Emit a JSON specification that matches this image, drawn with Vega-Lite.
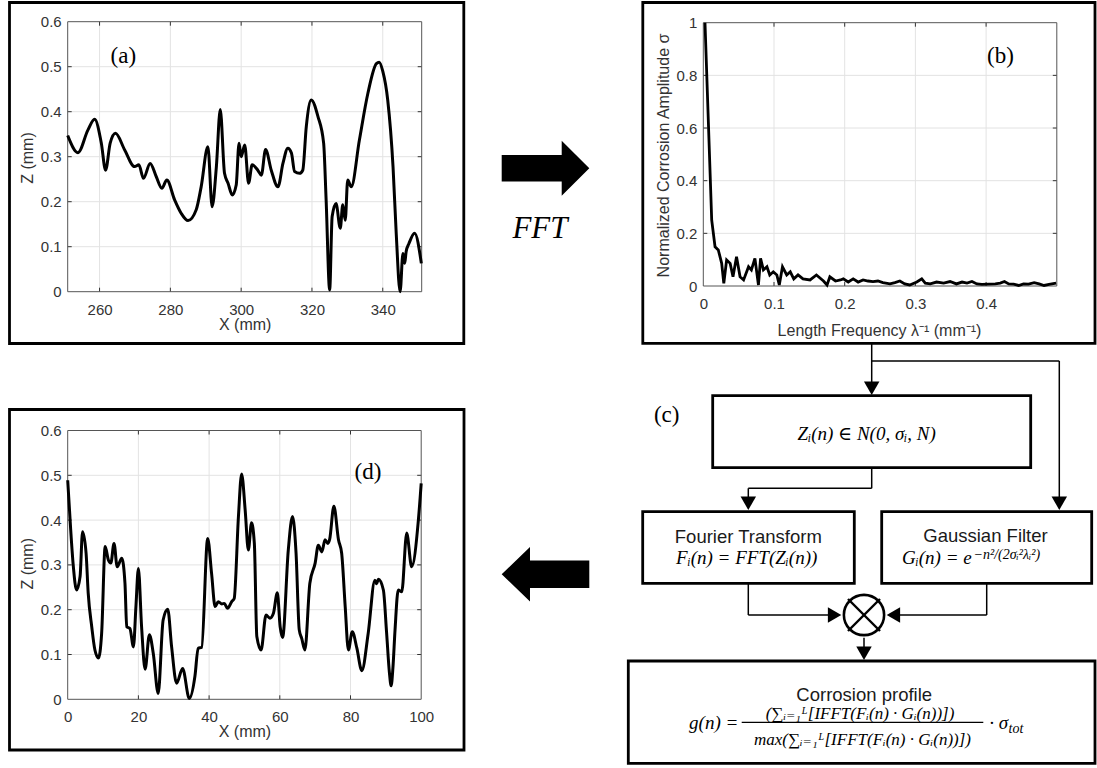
{
  "$schema": "https://vega.github.io/schema/vega-lite/v6.json",
  "width": 1097,
  "height": 768,
  "autosize": {"type": "none"},
  "padding": 0,
  "background": "white",
  "config": {
    "view": {"stroke": null},
    "axis": {
      "labelFont": "Liberation Sans",
      "labelFontSize": 15,
      "labelColor": "#333333",
      "titleFont": "Liberation Sans",
      "titleFontSize": 16,
      "titleFontWeight": "normal",
      "titleColor": "#333333",
      "labelFlush": false,
      "labelOverlap": false,
      "ticks": false,
      "tickSize": 0,
      "domain": false,
      "grid": false
    }
  },
  "datasets": {
    "profile_a": [
      {"X": 251.0, "Z": 0.347}, {"X": 253.9, "Z": 0.309}, {"X": 256.7, "Z": 0.359}, {"X": 258.6, "Z": 0.383},
      {"X": 260.5, "Z": 0.33}, {"X": 261.7, "Z": 0.27}, {"X": 263.0, "Z": 0.33}, {"X": 264.5, "Z": 0.352},
      {"X": 267.1, "Z": 0.315}, {"X": 269.9, "Z": 0.278}, {"X": 271.1, "Z": 0.282}, {"X": 272.4, "Z": 0.252},
      {"X": 274.3, "Z": 0.285}, {"X": 276.0, "Z": 0.256}, {"X": 277.6, "Z": 0.23}, {"X": 279.0, "Z": 0.248},
      {"X": 281.2, "Z": 0.204}, {"X": 283.0, "Z": 0.175}, {"X": 285.0, "Z": 0.158}, {"X": 287.3, "Z": 0.182},
      {"X": 288.7, "Z": 0.233}, {"X": 290.6, "Z": 0.322}, {"X": 291.8, "Z": 0.189}, {"X": 293.0, "Z": 0.278},
      {"X": 294.1, "Z": 0.405}, {"X": 295.3, "Z": 0.263}, {"X": 296.3, "Z": 0.241}, {"X": 297.5, "Z": 0.215},
      {"X": 298.6, "Z": 0.237}, {"X": 299.4, "Z": 0.33}, {"X": 300.0, "Z": 0.3}, {"X": 301.0, "Z": 0.326},
      {"X": 302.1, "Z": 0.241}, {"X": 303.1, "Z": 0.282}, {"X": 304.7, "Z": 0.27}, {"X": 305.7, "Z": 0.259},
      {"X": 306.9, "Z": 0.316}, {"X": 308.5, "Z": 0.27}, {"X": 310.4, "Z": 0.233}, {"X": 311.8, "Z": 0.285},
      {"X": 313.2, "Z": 0.319}, {"X": 314.2, "Z": 0.308}, {"X": 315.1, "Z": 0.267}, {"X": 316.5, "Z": 0.263},
      {"X": 317.4, "Z": 0.27}, {"X": 318.4, "Z": 0.367}, {"X": 319.8, "Z": 0.426}, {"X": 321.7, "Z": 0.389},
      {"X": 323.3, "Z": 0.33}, {"X": 324.0, "Z": 0.204}, {"X": 325.0, "Z": 0.004}, {"X": 325.7, "Z": 0.167},
      {"X": 326.8, "Z": 0.196}, {"X": 328.0, "Z": 0.141}, {"X": 328.7, "Z": 0.193}, {"X": 329.4, "Z": 0.159},
      {"X": 330.1, "Z": 0.248}, {"X": 331.1, "Z": 0.233}, {"X": 333.4, "Z": 0.337}, {"X": 335.8, "Z": 0.441},
      {"X": 338.2, "Z": 0.507}, {"X": 339.0, "Z": 0.51}, {"X": 340.0, "Z": 0.49}, {"X": 341.4, "Z": 0.426},
      {"X": 342.9, "Z": 0.278}, {"X": 343.8, "Z": 0.13}, {"X": 344.9, "Z": 0.0}, {"X": 345.7, "Z": 0.085},
      {"X": 346.2, "Z": 0.063}, {"X": 346.6, "Z": 0.089}, {"X": 347.4, "Z": 0.107}, {"X": 349.0, "Z": 0.13},
      {"X": 350.9, "Z": 0.063}
    ],
    "spectrum_b": [
      {"f": 0.0024, "s": 1.0}, {"f": 0.0119, "s": 0.25}, {"f": 0.0166, "s": 0.149}, {"f": 0.0212, "s": 0.137},
      {"f": 0.026, "s": 0.086}, {"f": 0.029, "s": 0.01}, {"f": 0.033, "s": 0.099}, {"f": 0.038, "s": 0.086},
      {"f": 0.042, "s": 0.035}, {"f": 0.047, "s": 0.111}, {"f": 0.052, "s": 0.035}, {"f": 0.057, "s": 0.023},
      {"f": 0.064, "s": 0.073}, {"f": 0.068, "s": 0.061}, {"f": 0.073, "s": 0.105}, {"f": 0.078, "s": 0.004},
      {"f": 0.081, "s": 0.105}, {"f": 0.085, "s": 0.061}, {"f": 0.09, "s": 0.073}, {"f": 0.094, "s": 0.042},
      {"f": 0.099, "s": 0.054}, {"f": 0.104, "s": 0.042}, {"f": 0.1075, "s": 0.004}, {"f": 0.112, "s": 0.073},
      {"f": 0.118, "s": 0.042}, {"f": 0.123, "s": 0.054}, {"f": 0.128, "s": 0.027}, {"f": 0.134, "s": 0.042},
      {"f": 0.141, "s": 0.027}, {"f": 0.151, "s": 0.023}, {"f": 0.16, "s": 0.042}, {"f": 0.17, "s": 0.019},
      {"f": 0.175, "s": 0.004}, {"f": 0.179, "s": 0.035}, {"f": 0.187, "s": 0.019}, {"f": 0.194, "s": 0.023},
      {"f": 0.198, "s": 0.027}, {"f": 0.205, "s": 0.015}, {"f": 0.212, "s": 0.027}, {"f": 0.219, "s": 0.015},
      {"f": 0.226, "s": 0.023}, {"f": 0.233, "s": 0.019}, {"f": 0.24, "s": 0.017}, {"f": 0.247, "s": 0.019},
      {"f": 0.254, "s": 0.013}, {"f": 0.264, "s": 0.008}, {"f": 0.271, "s": 0.013}, {"f": 0.278, "s": 0.019},
      {"f": 0.285, "s": 0.008}, {"f": 0.292, "s": 0.004}, {"f": 0.302, "s": 0.015}, {"f": 0.309, "s": 0.027},
      {"f": 0.314, "s": 0.011}, {"f": 0.321, "s": 0.008}, {"f": 0.33, "s": 0.015}, {"f": 0.34, "s": 0.011},
      {"f": 0.349, "s": 0.017}, {"f": 0.358, "s": 0.008}, {"f": 0.366, "s": 0.015}, {"f": 0.373, "s": 0.011},
      {"f": 0.38, "s": 0.017}, {"f": 0.387, "s": 0.008}, {"f": 0.394, "s": 0.006}, {"f": 0.404, "s": 0.007},
      {"f": 0.413, "s": 0.008}, {"f": 0.42, "s": 0.011}, {"f": 0.426, "s": 0.017}, {"f": 0.432, "s": 0.008},
      {"f": 0.439, "s": 0.007}, {"f": 0.446, "s": 0.002}, {"f": 0.453, "s": 0.008}, {"f": 0.46, "s": 0.007},
      {"f": 0.468, "s": 0.013}, {"f": 0.475, "s": 0.008}, {"f": 0.482, "s": 0.002}, {"f": 0.489, "s": 0.006},
      {"f": 0.499, "s": 0.011}
    ],
    "profile_d": [
      {"X": 0, "Z": 0.489}, {"X": 0.85, "Z": 0.378}, {"X": 1.6, "Z": 0.296}, {"X": 2.5, "Z": 0.244},
      {"X": 3.5, "Z": 0.274}, {"X": 4.2, "Z": 0.374}, {"X": 5.2, "Z": 0.326}, {"X": 5.8, "Z": 0.237},
      {"X": 6.8, "Z": 0.162}, {"X": 7.7, "Z": 0.11}, {"X": 8.7, "Z": 0.092}, {"X": 9.6, "Z": 0.147},
      {"X": 10.6, "Z": 0.341}, {"X": 11.5, "Z": 0.311}, {"X": 12.2, "Z": 0.304}, {"X": 13.1, "Z": 0.348},
      {"X": 14.0, "Z": 0.296}, {"X": 15.3, "Z": 0.315}, {"X": 16.2, "Z": 0.259}, {"X": 16.7, "Z": 0.162},
      {"X": 17.6, "Z": 0.158}, {"X": 18.6, "Z": 0.117}, {"X": 19.3, "Z": 0.207}, {"X": 20.0, "Z": 0.292},
      {"X": 20.9, "Z": 0.162}, {"X": 21.9, "Z": 0.067}, {"X": 23.1, "Z": 0.144}, {"X": 24.2, "Z": 0.103},
      {"X": 25.6, "Z": 0.013}, {"X": 27.0, "Z": 0.177}, {"X": 28.3, "Z": 0.201}, {"X": 29.4, "Z": 0.117},
      {"X": 30.8, "Z": 0.036}, {"X": 32.5, "Z": 0.069}, {"X": 34.4, "Z": 0.002}, {"X": 36.0, "Z": 0.052},
      {"X": 36.9, "Z": 0.114}, {"X": 37.9, "Z": 0.116}, {"X": 39.6, "Z": 0.359}, {"X": 40.7, "Z": 0.281},
      {"X": 41.7, "Z": 0.207}, {"X": 42.6, "Z": 0.218}, {"X": 43.6, "Z": 0.213}, {"X": 44.3, "Z": 0.214},
      {"X": 45.2, "Z": 0.203}, {"X": 46.4, "Z": 0.218}, {"X": 47.1, "Z": 0.225}, {"X": 48.3, "Z": 0.408},
      {"X": 49.2, "Z": 0.503}, {"X": 50.2, "Z": 0.423}, {"X": 51.1, "Z": 0.333}, {"X": 52.0, "Z": 0.394},
      {"X": 52.8, "Z": 0.348}, {"X": 53.5, "Z": 0.14}, {"X": 54.7, "Z": 0.11}, {"X": 56.1, "Z": 0.188},
      {"X": 57.2, "Z": 0.181}, {"X": 58.2, "Z": 0.192}, {"X": 59.3, "Z": 0.238}, {"X": 60.1, "Z": 0.162},
      {"X": 60.8, "Z": 0.138}, {"X": 62.4, "Z": 0.333}, {"X": 63.6, "Z": 0.408}, {"X": 64.6, "Z": 0.326},
      {"X": 65.5, "Z": 0.155}, {"X": 66.2, "Z": 0.136}, {"X": 67.1, "Z": 0.11}, {"X": 68.5, "Z": 0.259},
      {"X": 70.0, "Z": 0.304}, {"X": 70.9, "Z": 0.344}, {"X": 71.9, "Z": 0.329}, {"X": 72.8, "Z": 0.356},
      {"X": 73.6, "Z": 0.348}, {"X": 74.1, "Z": 0.357}, {"X": 75.3, "Z": 0.431}, {"X": 76.6, "Z": 0.356},
      {"X": 77.5, "Z": 0.326}, {"X": 78.5, "Z": 0.207}, {"X": 79.4, "Z": 0.11}, {"X": 80.5, "Z": 0.151},
      {"X": 81.8, "Z": 0.114}, {"X": 83.2, "Z": 0.064}, {"X": 85.0, "Z": 0.147}, {"X": 86.9, "Z": 0.266},
      {"X": 87.4, "Z": 0.258}, {"X": 87.9, "Z": 0.268}, {"X": 89.3, "Z": 0.244}, {"X": 90.2, "Z": 0.15},
      {"X": 91.0, "Z": 0.06}, {"X": 91.5, "Z": 0.03}, {"X": 92.0, "Z": 0.07}, {"X": 92.6, "Z": 0.155},
      {"X": 93.5, "Z": 0.244}, {"X": 94.5, "Z": 0.24}, {"X": 95.9, "Z": 0.371}, {"X": 97.3, "Z": 0.296},
      {"X": 99.2, "Z": 0.4}, {"X": 100, "Z": 0.482}
    ],
    "ticks_a_x": [{"v": 260}, {"v": 280}, {"v": 300}, {"v": 320}, {"v": 340}],
    "ticks_a_y": [{"v": 0.1}, {"v": 0.2}, {"v": 0.3}, {"v": 0.4}, {"v": 0.5}],
    "ticks_b_x": [{"v": 0.1}, {"v": 0.2}, {"v": 0.3}, {"v": 0.4}],
    "ticks_b_y": [{"v": 0.2}, {"v": 0.4}, {"v": 0.6}, {"v": 0.8}],
    "ticks_d_x": [{"v": 20}, {"v": 40}, {"v": 60}, {"v": 80}],
    "ticks_d_y": [{"v": 0.1}, {"v": 0.2}, {"v": 0.3}, {"v": 0.4}, {"v": 0.5}],
    "panel_frames": [
      {"x1": 9.5, "y1": 2.5, "x2": 463.8, "y2": 343.5},
      {"x1": 642.8, "y1": 2.5, "x2": 1095, "y2": 343.3},
      {"x1": 9.5, "y1": 409.5, "x2": 464, "y2": 750}
    ],
    "boxes": [
      {"x1": 712.7, "y1": 395.7, "x2": 1030.7, "y2": 467.7},
      {"x1": 642.7, "y1": 511.7, "x2": 854.3, "y2": 583.3},
      {"x1": 881.7, "y1": 511.7, "x2": 1091.7, "y2": 583.3},
      {"x1": 628.3, "y1": 661, "x2": 1095, "y2": 763.3}
    ],
    "connectors": [
      {"x1": 871.7, "y1": 343.3, "x2": 871.7, "y2": 385},
      {"x1": 871.7, "y1": 361, "x2": 1059.3, "y2": 361},
      {"x1": 1059.3, "y1": 361, "x2": 1059.3, "y2": 500},
      {"x1": 871.7, "y1": 467.7, "x2": 871.7, "y2": 488.3},
      {"x1": 871.7, "y1": 488.3, "x2": 748.3, "y2": 488.3},
      {"x1": 748.3, "y1": 488.3, "x2": 748.3, "y2": 500},
      {"x1": 748.3, "y1": 583.3, "x2": 748.3, "y2": 615},
      {"x1": 748.3, "y1": 615, "x2": 832, "y2": 615},
      {"x1": 986.7, "y1": 583.3, "x2": 986.7, "y2": 615},
      {"x1": 986.7, "y1": 615, "x2": 896, "y2": 615},
      {"x1": 864, "y1": 637.7, "x2": 864, "y2": 650}
    ],
    "cross": [
      {"x1": 848, "y1": 599, "x2": 880, "y2": 631},
      {"x1": 848, "y1": 631, "x2": 880, "y2": 599}
    ],
    "fractionbar": [{"x1": 741.7, "y1": 722.3, "x2": 983.3, "y2": 722.3}],
    "heads_down": [
      {"gx": 871.7, "gy": 388.3}, {"gx": 1059.3, "gy": 503.3}, {"gx": 748.3, "gy": 503.3}, {"gx": 864, "gy": 653.3}
    ],
    "heads_right": [{"gx": 834.6, "gy": 615}],
    "heads_left": [{"gx": 893.4, "gy": 615}],
    "multiplier": [{"gx": 864, "gy": 615}],
    "arrow_fft": [{"gx": 545.5, "gy": 168.3}],
    "arrow_back": [{"gx": 545.5, "gy": 574.3}],
    "panel_labels": [
      {"t": "(a)", "gx": 123.3, "gy": 56},
      {"t": "(b)", "gx": 1000.5, "gy": 56},
      {"t": "(c)", "gx": 666.7, "gy": 415},
      {"t": "(d)", "gx": 368, "gy": 471.5}
    ],
    "fft_label": [{"t": "FFT", "gx": 540, "gy": 238}],
    "box_titles": [
      {"t": "Fourier Transform", "gx": 748.3, "gy": 542.5},
      {"t": "Gaussian Filter", "gx": 985.5, "gy": 542},
      {"t": "Corrosion profile", "gx": 864.2, "gy": 700.5}
    ],
    "math_main": [
      {"t": "Zᵢ(n) ∈ N(0, σᵢ, N)", "gx": 866.7, "gy": 440},
      {"t": "Fᵢ(n) = FFT(Zᵢ(n))", "gx": 746.7, "gy": 564}
    ],
    "math_right": [
      {"t": "Gᵢ(n) = e", "gx": 971.7, "gy": 564},
      {"t": "g(n) =", "gx": 738.3, "gy": 729},
      {"t": "· σ", "gx": 1008, "gy": 729}
    ],
    "math_exp": [{"t": "−n²/(2σᵢ²λᵢ²)", "gx": 973.5, "gy": 558.5}],
    "math_frac": [
      {"t": "(∑ᵢ₌₁ᴸ[IFFT(Fᵢ(n) · Gᵢ(n))])", "gx": 860, "gy": 718.5},
      {"t": "max(∑ᵢ₌₁ᴸ[IFFT(Fᵢ(n) · Gᵢ(n))])", "gx": 862.5, "gy": 745}
    ],
    "math_sub": [{"t": "tot", "gx": 1008.5, "gy": 733}]
  },
  "layer": [
    {
      "data": {"name": "panel_frames"},
      "mark": {"type": "rect", "fill": null, "fillOpacity": 0, "stroke": "black", "strokeWidth": 2.8},
      "encoding": {
        "x": {"field": "x1", "type": "quantitative", "scale": {"domain": [0, 1097], "range": [0, 1097], "nice": false, "zero": false}, "axis": null},
        "x2": {"field": "x2"},
        "y": {"field": "y1", "type": "quantitative", "scale": {"domain": [0, 768], "range": [0, 768], "nice": false, "zero": false}, "axis": null},
        "y2": {"field": "y2"}
      }
    },
    {
      "data": {"name": "boxes"},
      "mark": {"type": "rect", "fill": "white", "stroke": "black", "strokeWidth": 2.8},
      "encoding": {
        "x": {"field": "x1", "type": "quantitative", "scale": {"domain": [0, 1097], "range": [0, 1097], "nice": false, "zero": false}, "axis": null},
        "x2": {"field": "x2"},
        "y": {"field": "y1", "type": "quantitative", "scale": {"domain": [0, 768], "range": [0, 768], "nice": false, "zero": false}, "axis": null},
        "y2": {"field": "y2"}
      }
    },
    {
      "data": {"name": "ticks_a_x"},
      "mark": {"type": "rule", "stroke": "#e3e3e3", "strokeWidth": 1},
      "encoding": {
        "x": {"field": "v", "type": "quantitative", "scale": {"domain": [251, 351], "range": [67.7, 421.7], "nice": false, "zero": false}, "axis": null},
        "y": {"datum": 0, "type": "quantitative", "scale": {"domain": [0, 0.6], "range": [291.7, 21.7], "nice": false, "zero": false}, "axis": null},
        "y2": {"datum": 0.6}
      }
    },
    {
      "data": {"name": "ticks_a_y"},
      "mark": {"type": "rule", "stroke": "#e3e3e3", "strokeWidth": 1},
      "encoding": {
        "y": {"field": "v", "type": "quantitative", "scale": {"domain": [0, 0.6], "range": [291.7, 21.7], "nice": false, "zero": false}, "axis": null},
        "x": {"datum": 251, "type": "quantitative", "scale": {"domain": [251, 351], "range": [67.7, 421.7], "nice": false, "zero": false}, "axis": null},
        "x2": {"datum": 351}
      }
    },
    {
      "data": {"name": "ticks_a_x"},
      "mark": {"type": "rule", "stroke": "#333333", "strokeWidth": 1, "y2Offset": -4},
      "encoding": {
        "x": {"field": "v", "type": "quantitative", "scale": {"domain": [251, 351], "range": [67.7, 421.7], "nice": false, "zero": false}, "axis": null},
        "y": {"datum": 0, "type": "quantitative", "scale": {"domain": [0, 0.6], "range": [291.7, 21.7], "nice": false, "zero": false}, "axis": null},
        "y2": {"datum": 0}
      }
    },
    {
      "data": {"name": "ticks_a_x"},
      "mark": {"type": "rule", "stroke": "#333333", "strokeWidth": 1, "y2Offset": 4},
      "encoding": {
        "x": {"field": "v", "type": "quantitative", "scale": {"domain": [251, 351], "range": [67.7, 421.7], "nice": false, "zero": false}, "axis": null},
        "y": {"datum": 0.6, "type": "quantitative", "scale": {"domain": [0, 0.6], "range": [291.7, 21.7], "nice": false, "zero": false}, "axis": null},
        "y2": {"datum": 0.6}
      }
    },
    {
      "data": {"name": "ticks_a_y"},
      "mark": {"type": "rule", "stroke": "#333333", "strokeWidth": 1, "x2Offset": 4},
      "encoding": {
        "y": {"field": "v", "type": "quantitative", "scale": {"domain": [0, 0.6], "range": [291.7, 21.7], "nice": false, "zero": false}, "axis": null},
        "x": {"datum": 251, "type": "quantitative", "scale": {"domain": [251, 351], "range": [67.7, 421.7], "nice": false, "zero": false}, "axis": null},
        "x2": {"datum": 251}
      }
    },
    {
      "data": {"name": "ticks_a_y"},
      "mark": {"type": "rule", "stroke": "#333333", "strokeWidth": 1, "x2Offset": -4},
      "encoding": {
        "y": {"field": "v", "type": "quantitative", "scale": {"domain": [0, 0.6], "range": [291.7, 21.7], "nice": false, "zero": false}, "axis": null},
        "x": {"datum": 351, "type": "quantitative", "scale": {"domain": [251, 351], "range": [67.7, 421.7], "nice": false, "zero": false}, "axis": null},
        "x2": {"datum": 351}
      }
    },
    {
      "data": {"values": [{"x0": 251, "x1": 351, "y0": 0, "y1": 0.6}]},
      "mark": {"type": "rect", "fill": null, "fillOpacity": 0, "stroke": "#555555", "strokeWidth": 1},
      "encoding": {
        "x": {"field": "x0", "type": "quantitative", "scale": {"domain": [251, 351], "range": [67.7, 421.7], "nice": false, "zero": false}, "axis": null},
        "x2": {"field": "x1"},
        "y": {"field": "y0", "type": "quantitative", "scale": {"domain": [0, 0.6], "range": [291.7, 21.7], "nice": false, "zero": false}, "axis": null},
        "y2": {"field": "y1"}
      }
    },
    {
      "data": {"name": "profile_a"},
      "mark": {"type": "line", "color": "black", "strokeWidth": 3, "interpolate": "monotone"},
      "encoding": {
        "x": {"field": "X", "type": "quantitative", "scale": {"domain": [251, 351], "range": [67.7, 421.7], "nice": false, "zero": false},
          "axis": {"orient": "bottom", "offset": -476.3, "zindex": 1, "values": [260, 280, 300, 320, 340], "format": "d", "labelPadding": 10.5,
            "title": "X (mm)", "titleX": 244.7, "titleY": 37.5, "titleBaseline": "alphabetic", "titleAlign": "center"}},
        "y": {"field": "Z", "type": "quantitative", "scale": {"domain": [0, 0.6], "range": [291.7, 21.7], "nice": false, "zero": false},
          "axis": {"orient": "left", "offset": -67.7, "zindex": 1, "values": [0, 0.1, 0.2, 0.3, 0.4, 0.5, 0.6], "format": "~g", "labelPadding": 6.5,
            "title": "Z (mm)", "titleX": -35.4, "titleY": 157.5, "titleAngle": 270, "titleBaseline": "alphabetic", "titleAlign": "center"}}
      }
    },
    {
      "data": {"name": "ticks_b_x"},
      "mark": {"type": "rule", "stroke": "#e3e3e3", "strokeWidth": 1},
      "encoding": {
        "x": {"field": "v", "type": "quantitative", "scale": {"domain": [0, 0.5], "range": [703.3, 1056.8], "nice": false, "zero": false}, "axis": null},
        "y": {"datum": 0, "type": "quantitative", "scale": {"domain": [0, 1], "range": [286, 22.7], "nice": false, "zero": false}, "axis": null},
        "y2": {"datum": 1}
      }
    },
    {
      "data": {"name": "ticks_b_y"},
      "mark": {"type": "rule", "stroke": "#e3e3e3", "strokeWidth": 1},
      "encoding": {
        "y": {"field": "v", "type": "quantitative", "scale": {"domain": [0, 1], "range": [286, 22.7], "nice": false, "zero": false}, "axis": null},
        "x": {"datum": 0, "type": "quantitative", "scale": {"domain": [0, 0.5], "range": [703.3, 1056.8], "nice": false, "zero": false}, "axis": null},
        "x2": {"datum": 0.5}
      }
    },
    {
      "data": {"name": "ticks_b_x"},
      "mark": {"type": "rule", "stroke": "#333333", "strokeWidth": 1, "y2Offset": -4},
      "encoding": {
        "x": {"field": "v", "type": "quantitative", "scale": {"domain": [0, 0.5], "range": [703.3, 1056.8], "nice": false, "zero": false}, "axis": null},
        "y": {"datum": 0, "type": "quantitative", "scale": {"domain": [0, 1], "range": [286, 22.7], "nice": false, "zero": false}, "axis": null},
        "y2": {"datum": 0}
      }
    },
    {
      "data": {"name": "ticks_b_x"},
      "mark": {"type": "rule", "stroke": "#333333", "strokeWidth": 1, "y2Offset": 4},
      "encoding": {
        "x": {"field": "v", "type": "quantitative", "scale": {"domain": [0, 0.5], "range": [703.3, 1056.8], "nice": false, "zero": false}, "axis": null},
        "y": {"datum": 1, "type": "quantitative", "scale": {"domain": [0, 1], "range": [286, 22.7], "nice": false, "zero": false}, "axis": null},
        "y2": {"datum": 1}
      }
    },
    {
      "data": {"name": "ticks_b_y"},
      "mark": {"type": "rule", "stroke": "#333333", "strokeWidth": 1, "x2Offset": 4},
      "encoding": {
        "y": {"field": "v", "type": "quantitative", "scale": {"domain": [0, 1], "range": [286, 22.7], "nice": false, "zero": false}, "axis": null},
        "x": {"datum": 0, "type": "quantitative", "scale": {"domain": [0, 0.5], "range": [703.3, 1056.8], "nice": false, "zero": false}, "axis": null},
        "x2": {"datum": 0}
      }
    },
    {
      "data": {"name": "ticks_b_y"},
      "mark": {"type": "rule", "stroke": "#333333", "strokeWidth": 1, "x2Offset": -4},
      "encoding": {
        "y": {"field": "v", "type": "quantitative", "scale": {"domain": [0, 1], "range": [286, 22.7], "nice": false, "zero": false}, "axis": null},
        "x": {"datum": 0.5, "type": "quantitative", "scale": {"domain": [0, 0.5], "range": [703.3, 1056.8], "nice": false, "zero": false}, "axis": null},
        "x2": {"datum": 0.5}
      }
    },
    {
      "data": {"values": [{"x0": 0, "x1": 0.5, "y0": 0, "y1": 1}]},
      "mark": {"type": "rect", "fill": null, "fillOpacity": 0, "stroke": "#555555", "strokeWidth": 1},
      "encoding": {
        "x": {"field": "x0", "type": "quantitative", "scale": {"domain": [0, 0.5], "range": [703.3, 1056.8], "nice": false, "zero": false}, "axis": null},
        "x2": {"field": "x1"},
        "y": {"field": "y0", "type": "quantitative", "scale": {"domain": [0, 1], "range": [286, 22.7], "nice": false, "zero": false}, "axis": null},
        "y2": {"field": "y1"}
      }
    },
    {
      "data": {"name": "spectrum_b"},
      "mark": {"type": "line", "color": "black", "strokeWidth": 2.8},
      "encoding": {
        "x": {"field": "f", "type": "quantitative", "scale": {"domain": [0, 0.5], "range": [703.3, 1056.8], "nice": false, "zero": false},
          "axis": {"orient": "bottom", "offset": -482, "zindex": 1, "values": [0, 0.1, 0.2, 0.3, 0.4], "format": "~g", "labelPadding": 10,
            "title": "Length Frequency λ⁻¹ (mm⁻¹)", "titleX": 879, "titleY": 49, "titleBaseline": "alphabetic", "titleAlign": "center"}},
        "y": {"field": "s", "type": "quantitative", "scale": {"domain": [0, 1], "range": [286, 22.7], "nice": false, "zero": false},
          "axis": {"orient": "left", "offset": -703.3, "zindex": 1, "values": [0, 0.2, 0.4, 0.6, 0.8, 1], "format": "~g", "labelPadding": 6.5,
            "title": "Normalized Corrosion Amplitude σ", "titleX": -35, "titleY": 155, "titleAngle": 270, "titleBaseline": "alphabetic", "titleAlign": "center"}}
      }
    },
    {
      "data": {"name": "ticks_d_x"},
      "mark": {"type": "rule", "stroke": "#e3e3e3", "strokeWidth": 1},
      "encoding": {
        "x": {"field": "v", "type": "quantitative", "scale": {"domain": [0, 100], "range": [67.7, 421.2], "nice": false, "zero": false}, "axis": null},
        "y": {"datum": 0, "type": "quantitative", "scale": {"domain": [0, 0.6], "range": [699.3, 430.5], "nice": false, "zero": false}, "axis": null},
        "y2": {"datum": 0.6}
      }
    },
    {
      "data": {"name": "ticks_d_y"},
      "mark": {"type": "rule", "stroke": "#e3e3e3", "strokeWidth": 1},
      "encoding": {
        "y": {"field": "v", "type": "quantitative", "scale": {"domain": [0, 0.6], "range": [699.3, 430.5], "nice": false, "zero": false}, "axis": null},
        "x": {"datum": 0, "type": "quantitative", "scale": {"domain": [0, 100], "range": [67.7, 421.2], "nice": false, "zero": false}, "axis": null},
        "x2": {"datum": 100}
      }
    },
    {
      "data": {"name": "ticks_d_x"},
      "mark": {"type": "rule", "stroke": "#333333", "strokeWidth": 1, "y2Offset": -4},
      "encoding": {
        "x": {"field": "v", "type": "quantitative", "scale": {"domain": [0, 100], "range": [67.7, 421.2], "nice": false, "zero": false}, "axis": null},
        "y": {"datum": 0, "type": "quantitative", "scale": {"domain": [0, 0.6], "range": [699.3, 430.5], "nice": false, "zero": false}, "axis": null},
        "y2": {"datum": 0}
      }
    },
    {
      "data": {"name": "ticks_d_x"},
      "mark": {"type": "rule", "stroke": "#333333", "strokeWidth": 1, "y2Offset": 4},
      "encoding": {
        "x": {"field": "v", "type": "quantitative", "scale": {"domain": [0, 100], "range": [67.7, 421.2], "nice": false, "zero": false}, "axis": null},
        "y": {"datum": 0.6, "type": "quantitative", "scale": {"domain": [0, 0.6], "range": [699.3, 430.5], "nice": false, "zero": false}, "axis": null},
        "y2": {"datum": 0.6}
      }
    },
    {
      "data": {"name": "ticks_d_y"},
      "mark": {"type": "rule", "stroke": "#333333", "strokeWidth": 1, "x2Offset": 4},
      "encoding": {
        "y": {"field": "v", "type": "quantitative", "scale": {"domain": [0, 0.6], "range": [699.3, 430.5], "nice": false, "zero": false}, "axis": null},
        "x": {"datum": 0, "type": "quantitative", "scale": {"domain": [0, 100], "range": [67.7, 421.2], "nice": false, "zero": false}, "axis": null},
        "x2": {"datum": 0}
      }
    },
    {
      "data": {"name": "ticks_d_y"},
      "mark": {"type": "rule", "stroke": "#333333", "strokeWidth": 1, "x2Offset": -4},
      "encoding": {
        "y": {"field": "v", "type": "quantitative", "scale": {"domain": [0, 0.6], "range": [699.3, 430.5], "nice": false, "zero": false}, "axis": null},
        "x": {"datum": 100, "type": "quantitative", "scale": {"domain": [0, 100], "range": [67.7, 421.2], "nice": false, "zero": false}, "axis": null},
        "x2": {"datum": 100}
      }
    },
    {
      "data": {"values": [{"x0": 0, "x1": 100, "y0": 0, "y1": 0.6}]},
      "mark": {"type": "rect", "fill": null, "fillOpacity": 0, "stroke": "#555555", "strokeWidth": 1},
      "encoding": {
        "x": {"field": "x0", "type": "quantitative", "scale": {"domain": [0, 100], "range": [67.7, 421.2], "nice": false, "zero": false}, "axis": null},
        "x2": {"field": "x1"},
        "y": {"field": "y0", "type": "quantitative", "scale": {"domain": [0, 0.6], "range": [699.3, 430.5], "nice": false, "zero": false}, "axis": null},
        "y2": {"field": "y1"}
      }
    },
    {
      "data": {"name": "profile_d"},
      "mark": {"type": "line", "color": "black", "strokeWidth": 3, "interpolate": "monotone"},
      "encoding": {
        "x": {"field": "X", "type": "quantitative", "scale": {"domain": [0, 100], "range": [67.7, 421.2], "nice": false, "zero": false},
          "axis": {"orient": "bottom", "offset": -68.7, "zindex": 1, "values": [0, 20, 40, 60, 80, 100], "format": "d", "labelPadding": 10.5,
            "title": "X (mm)", "titleX": 244.4, "titleY": 37.5, "titleBaseline": "alphabetic", "titleAlign": "center"}},
        "y": {"field": "Z", "type": "quantitative", "scale": {"domain": [0, 0.6], "range": [699.3, 430.5], "nice": false, "zero": false},
          "axis": {"orient": "left", "offset": -67.7, "zindex": 1, "values": [0, 0.1, 0.2, 0.3, 0.4, 0.5, 0.6], "format": "~g", "labelPadding": 6.5,
            "title": "Z (mm)", "titleX": -35.4, "titleY": 563.3, "titleAngle": 270, "titleBaseline": "alphabetic", "titleAlign": "center"}}
      }
    },
    {
      "data": {"name": "connectors"},
      "mark": {"type": "rule", "stroke": "black", "strokeWidth": 1.5},
      "encoding": {
        "x": {"field": "x1", "type": "quantitative", "scale": {"domain": [0, 1097], "range": [0, 1097], "nice": false, "zero": false}, "axis": null},
        "x2": {"field": "x2"},
        "y": {"field": "y1", "type": "quantitative", "scale": {"domain": [0, 768], "range": [0, 768], "nice": false, "zero": false}, "axis": null},
        "y2": {"field": "y2"}
      }
    },
    {
      "data": {"name": "fractionbar"},
      "mark": {"type": "rule", "stroke": "black", "strokeWidth": 1.2},
      "encoding": {
        "x": {"field": "x1", "type": "quantitative", "scale": {"domain": [0, 1097], "range": [0, 1097], "nice": false, "zero": false}, "axis": null},
        "x2": {"field": "x2"},
        "y": {"field": "y1", "type": "quantitative", "scale": {"domain": [0, 768], "range": [0, 768], "nice": false, "zero": false}, "axis": null},
        "y2": {"field": "y2"}
      }
    },
    {
      "data": {"name": "heads_down"},
      "mark": {"type": "point", "shape": "triangle-down", "size": 240, "filled": true, "fill": "black", "stroke": null, "opacity": 1},
      "encoding": {
        "x": {"field": "gx", "type": "quantitative", "scale": {"domain": [0, 1097], "range": [0, 1097], "nice": false, "zero": false}, "axis": null},
        "y": {"field": "gy", "type": "quantitative", "scale": {"domain": [0, 768], "range": [0, 768], "nice": false, "zero": false}, "axis": null}
      }
    },
    {
      "data": {"name": "heads_right"},
      "mark": {"type": "point", "shape": "triangle-right", "size": 240, "filled": true, "fill": "black", "stroke": null, "opacity": 1},
      "encoding": {
        "x": {"field": "gx", "type": "quantitative", "scale": {"domain": [0, 1097], "range": [0, 1097], "nice": false, "zero": false}, "axis": null},
        "y": {"field": "gy", "type": "quantitative", "scale": {"domain": [0, 768], "range": [0, 768], "nice": false, "zero": false}, "axis": null}
      }
    },
    {
      "data": {"name": "heads_left"},
      "mark": {"type": "point", "shape": "triangle-left", "size": 240, "filled": true, "fill": "black", "stroke": null, "opacity": 1},
      "encoding": {
        "x": {"field": "gx", "type": "quantitative", "scale": {"domain": [0, 1097], "range": [0, 1097], "nice": false, "zero": false}, "axis": null},
        "y": {"field": "gy", "type": "quantitative", "scale": {"domain": [0, 768], "range": [0, 768], "nice": false, "zero": false}, "axis": null}
      }
    },
    {
      "data": {"name": "multiplier"},
      "mark": {"type": "point", "shape": "circle", "size": 1619, "filled": false, "fill": "white", "fillOpacity": 1, "stroke": "black", "strokeWidth": 2.6, "opacity": 1},
      "encoding": {
        "x": {"field": "gx", "type": "quantitative", "scale": {"domain": [0, 1097], "range": [0, 1097], "nice": false, "zero": false}, "axis": null},
        "y": {"field": "gy", "type": "quantitative", "scale": {"domain": [0, 768], "range": [0, 768], "nice": false, "zero": false}, "axis": null}
      }
    },
    {
      "data": {"name": "cross"},
      "mark": {"type": "rule", "stroke": "black", "strokeWidth": 2.4},
      "encoding": {
        "x": {"field": "x1", "type": "quantitative", "scale": {"domain": [0, 1097], "range": [0, 1097], "nice": false, "zero": false}, "axis": null},
        "x2": {"field": "x2"},
        "y": {"field": "y1", "type": "quantitative", "scale": {"domain": [0, 768], "range": [0, 768], "nice": false, "zero": false}, "axis": null},
        "y2": {"field": "y2"}
      }
    },
    {
      "data": {"name": "arrow_fft"},
      "mark": {"type": "point", "shape": "M-1,-0.304L0.37,-0.304L0.37,-0.628L1,0L0.37,0.628L0.37,0.304L-1,0.304Z", "size": 7674, "filled": true, "fill": "black", "stroke": null, "opacity": 1},
      "encoding": {
        "x": {"field": "gx", "type": "quantitative", "scale": {"domain": [0, 1097], "range": [0, 1097], "nice": false, "zero": false}, "axis": null},
        "y": {"field": "gy", "type": "quantitative", "scale": {"domain": [0, 768], "range": [0, 768], "nice": false, "zero": false}, "axis": null}
      }
    },
    {
      "data": {"name": "arrow_back"},
      "mark": {"type": "point", "shape": "M1,-0.315L-0.354,-0.315L-0.354,-0.621L-1,0L-0.354,0.621L-0.354,0.315L1,0.315Z", "size": 7674, "filled": true, "fill": "black", "stroke": null, "opacity": 1},
      "encoding": {
        "x": {"field": "gx", "type": "quantitative", "scale": {"domain": [0, 1097], "range": [0, 1097], "nice": false, "zero": false}, "axis": null},
        "y": {"field": "gy", "type": "quantitative", "scale": {"domain": [0, 768], "range": [0, 768], "nice": false, "zero": false}, "axis": null}
      }
    },
    {
      "data": {"name": "panel_labels"},
      "mark": {"type": "text", "font": "'Liberation Serif', 'DejaVu Serif', serif", "fontSize": 23, "align": "center", "baseline": "middle", "color": "black"},
      "encoding": {
        "x": {"field": "gx", "type": "quantitative", "scale": {"domain": [0, 1097], "range": [0, 1097], "nice": false, "zero": false}, "axis": null},
        "y": {"field": "gy", "type": "quantitative", "scale": {"domain": [0, 768], "range": [0, 768], "nice": false, "zero": false}, "axis": null},
        "text": {"field": "t"}
      }
    },
    {
      "data": {"name": "fft_label"},
      "mark": {"type": "text", "font": "'Liberation Serif', 'DejaVu Serif', serif", "fontStyle": "italic", "fontSize": 31, "align": "center", "baseline": "alphabetic", "color": "black"},
      "encoding": {
        "x": {"field": "gx", "type": "quantitative", "scale": {"domain": [0, 1097], "range": [0, 1097], "nice": false, "zero": false}, "axis": null},
        "y": {"field": "gy", "type": "quantitative", "scale": {"domain": [0, 768], "range": [0, 768], "nice": false, "zero": false}, "axis": null},
        "text": {"field": "t"}
      }
    },
    {
      "data": {"name": "box_titles"},
      "mark": {"type": "text", "font": "Liberation Sans", "fontSize": 18.5, "align": "center", "baseline": "alphabetic", "color": "#1a1a1a"},
      "encoding": {
        "x": {"field": "gx", "type": "quantitative", "scale": {"domain": [0, 1097], "range": [0, 1097], "nice": false, "zero": false}, "axis": null},
        "y": {"field": "gy", "type": "quantitative", "scale": {"domain": [0, 768], "range": [0, 768], "nice": false, "zero": false}, "axis": null},
        "text": {"field": "t"}
      }
    },
    {
      "data": {"name": "math_main"},
      "mark": {"type": "text", "font": "'Liberation Serif', 'DejaVu Serif', serif", "fontStyle": "italic", "fontSize": 19, "align": "center", "baseline": "alphabetic", "color": "black"},
      "encoding": {
        "x": {"field": "gx", "type": "quantitative", "scale": {"domain": [0, 1097], "range": [0, 1097], "nice": false, "zero": false}, "axis": null},
        "y": {"field": "gy", "type": "quantitative", "scale": {"domain": [0, 768], "range": [0, 768], "nice": false, "zero": false}, "axis": null},
        "text": {"field": "t"}
      }
    },
    {
      "data": {"name": "math_right"},
      "mark": {"type": "text", "font": "'Liberation Serif', 'DejaVu Serif', serif", "fontStyle": "italic", "fontSize": 19, "align": "right", "baseline": "alphabetic", "color": "black"},
      "encoding": {
        "x": {"field": "gx", "type": "quantitative", "scale": {"domain": [0, 1097], "range": [0, 1097], "nice": false, "zero": false}, "axis": null},
        "y": {"field": "gy", "type": "quantitative", "scale": {"domain": [0, 768], "range": [0, 768], "nice": false, "zero": false}, "axis": null},
        "text": {"field": "t"}
      }
    },
    {
      "data": {"name": "math_exp"},
      "mark": {"type": "text", "font": "'Liberation Serif', 'DejaVu Serif', serif", "fontStyle": "italic", "fontSize": 14, "align": "left", "baseline": "alphabetic", "color": "black"},
      "encoding": {
        "x": {"field": "gx", "type": "quantitative", "scale": {"domain": [0, 1097], "range": [0, 1097], "nice": false, "zero": false}, "axis": null},
        "y": {"field": "gy", "type": "quantitative", "scale": {"domain": [0, 768], "range": [0, 768], "nice": false, "zero": false}, "axis": null},
        "text": {"field": "t"}
      }
    },
    {
      "data": {"name": "math_frac"},
      "mark": {"type": "text", "font": "'Liberation Serif', 'DejaVu Serif', serif", "fontStyle": "italic", "fontSize": 17, "align": "center", "baseline": "alphabetic", "color": "black"},
      "encoding": {
        "x": {"field": "gx", "type": "quantitative", "scale": {"domain": [0, 1097], "range": [0, 1097], "nice": false, "zero": false}, "axis": null},
        "y": {"field": "gy", "type": "quantitative", "scale": {"domain": [0, 768], "range": [0, 768], "nice": false, "zero": false}, "axis": null},
        "text": {"field": "t"}
      }
    },
    {
      "data": {"name": "math_sub"},
      "mark": {"type": "text", "font": "'Liberation Serif', 'DejaVu Serif', serif", "fontStyle": "italic", "fontSize": 14, "align": "left", "baseline": "alphabetic", "color": "black"},
      "encoding": {
        "x": {"field": "gx", "type": "quantitative", "scale": {"domain": [0, 1097], "range": [0, 1097], "nice": false, "zero": false}, "axis": null},
        "y": {"field": "gy", "type": "quantitative", "scale": {"domain": [0, 768], "range": [0, 768], "nice": false, "zero": false}, "axis": null},
        "text": {"field": "t"}
      }
    }
  ],
  "resolve": {
    "scale": {"x": "independent", "y": "independent"},
    "axis": {"x": "independent", "y": "independent"}
  }
}
